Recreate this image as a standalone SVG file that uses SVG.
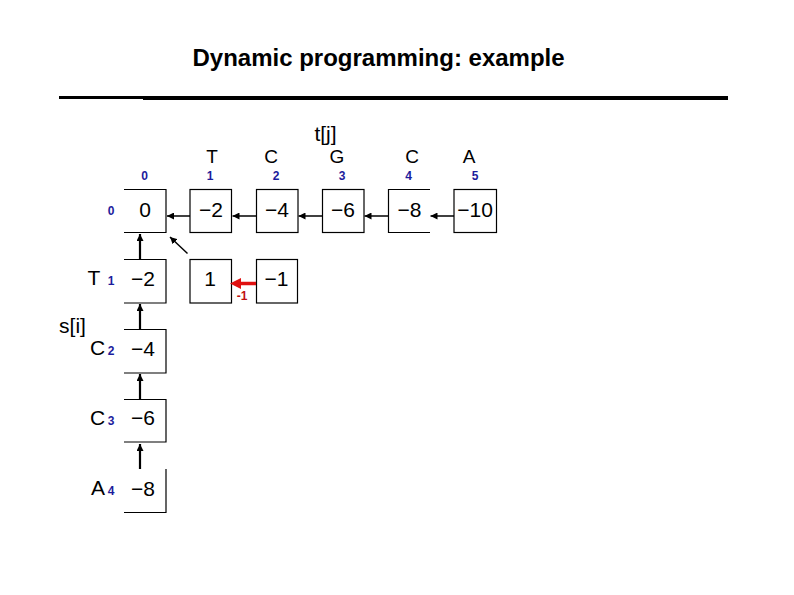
<svg xmlns="http://www.w3.org/2000/svg" width="794" height="595" viewBox="0 0 794 595">
<defs>
<style>
.title{font-family:"Liberation Sans",Arial,sans-serif;font-weight:bold;font-size:24px;fill:#000}
.val{font-family:"Liberation Sans",Arial,sans-serif;font-size:21px;fill:#000;text-anchor:middle}
.lbl{font-family:"Liberation Sans",Arial,sans-serif;font-size:21px;fill:#000;text-anchor:middle}
.hdr{font-family:"Liberation Sans",Arial,sans-serif;font-size:19px;fill:#000;text-anchor:middle}
.idx{font-family:"Liberation Sans",Arial,sans-serif;font-weight:bold;font-size:12px;fill:#1c1c9c;text-anchor:middle}
.box{fill:none;stroke:#000;stroke-width:1.2}
.arr{stroke:#000;stroke-width:1.5;fill:none}
.arv{stroke:#000;stroke-width:2.2;fill:none}
.red{stroke:#e01010;stroke-width:3.5;fill:none}
.redt{font-family:"Liberation Sans",Arial,sans-serif;font-weight:bold;font-size:12px;fill:#c01010;text-anchor:middle}
</style>
<marker id="ah" viewBox="0 0 10 10" refX="10" refY="5" markerWidth="7" markerHeight="7" markerUnits="userSpaceOnUse" orient="auto">
<path d="M0,0 L10,5 L0,10 z" fill="#000"/>
</marker>
</defs>
<rect width="794" height="595" fill="#fff"/>
<text class="title" x="192.5" y="66">Dynamic programming: example</text>
<rect x="59" y="96" width="84" height="3" fill="#000"/>
<rect x="143" y="96" width="585" height="4" fill="#000"/>

<text class="lbl" x="325.5" y="141">t[j]</text>
<text class="hdr" x="212" y="163">T</text>
<text class="hdr" x="271" y="163">C</text>
<text class="hdr" x="337" y="163">G</text>
<text class="hdr" x="412" y="163">C</text>
<text class="hdr" x="469" y="163">A</text>
<text class="idx" x="144.5" y="180">0</text>
<text class="idx" x="210" y="180">1</text>
<text class="idx" x="276" y="180">2</text>
<text class="idx" x="342" y="180">3</text>
<text class="idx" x="408.5" y="180">4</text>
<text class="idx" x="475" y="180">5</text>

<text class="lbl" x="72.5" y="333">s[i]</text>
<text class="idx" x="111" y="215">0</text>
<text class="lbl" x="94" y="285">T</text><text class="idx" x="111" y="285">1</text>
<text class="lbl" x="97.5" y="355">C</text><text class="idx" x="111" y="355">2</text>
<text class="lbl" x="97.5" y="424.5">C</text><text class="idx" x="111" y="424.5">3</text>
<text class="lbl" x="98" y="495">A</text><text class="idx" x="111" y="495">4</text>

<g id="c00"><path class="box" d="M124,189.5 H166 V232.5 H124"/><text class="val" x="145" y="216.5">0</text></g>
<g id="c01"><rect class="box" x="190" y="189.5" width="41.5" height="43"/><text class="val" x="211" y="216.5">−2</text></g>
<g id="c02"><rect class="box" x="256.5" y="189.5" width="41.5" height="43"/><text class="val" x="277" y="216.5">−4</text></g>
<g id="c03"><rect class="box" x="322.5" y="189.5" width="41.5" height="43"/><text class="val" x="343" y="216.5">−6</text></g>
<g id="c04"><path class="box" d="M430,189.5 H388.5 V232.5 H430"/><text class="val" x="409.5" y="216.5">−8</text></g>
<g id="c05"><rect class="box" x="454" y="189.5" width="42.5" height="43"/><text class="val" x="475" y="216.5">−10</text></g>

<g id="c10"><path class="box" d="M124,259.5 H166 V303 H124"/><text class="val" x="143" y="285.5">−2</text></g>
<g id="c11"><rect class="box" x="190" y="259.5" width="41.5" height="43.5"/><text class="val" x="210" y="285.5">1</text></g>
<g id="c12"><rect class="box" x="256.5" y="259.5" width="41" height="43.5"/><text class="val" x="276.5" y="285.5">−1</text></g>
<g id="c20"><path class="box" d="M124,329.5 H166 V373 H124"/><text class="val" x="143" y="355.5">−4</text></g>
<g id="c30"><path class="box" d="M124,399.5 H166 V442 H124"/><text class="val" x="143" y="425">−6</text></g>
<g id="c40"><path class="box" d="M166,469 V512.5 H124"/><text class="val" x="143" y="495.5">−8</text></g>

<g id="connectors">
<line class="arr" x1="190" y1="216" x2="167" y2="216" marker-end="url(#ah)"/>
<line class="arr" x1="256.5" y1="216" x2="232.5" y2="216" marker-end="url(#ah)"/>
<line class="arr" x1="322.5" y1="216" x2="298.5" y2="216" marker-end="url(#ah)"/>
<line class="arr" x1="388.5" y1="216" x2="364.5" y2="216" marker-end="url(#ah)"/>
<line class="arr" x1="454" y1="216" x2="430.5" y2="216" marker-end="url(#ah)"/>
<line class="arv" x1="140" y1="259.5" x2="140" y2="234" marker-end="url(#ah)"/>
<line class="arv" x1="140" y1="329.5" x2="140" y2="304" marker-end="url(#ah)"/>
<line class="arv" x1="140" y1="399.5" x2="140" y2="374" marker-end="url(#ah)"/>
<line class="arv" x1="140" y1="469" x2="140" y2="444" marker-end="url(#ah)"/>
<line class="arr" x1="187.5" y1="253.5" x2="170" y2="237" marker-end="url(#ah)"/>
<line class="red" x1="256" y1="283.5" x2="239" y2="283.5"/>
<path d="M230,283.5 L241,278 L241,289 z" fill="#e01010"/>
<text class="redt" x="242" y="300">-1</text>
</g>
</svg>
